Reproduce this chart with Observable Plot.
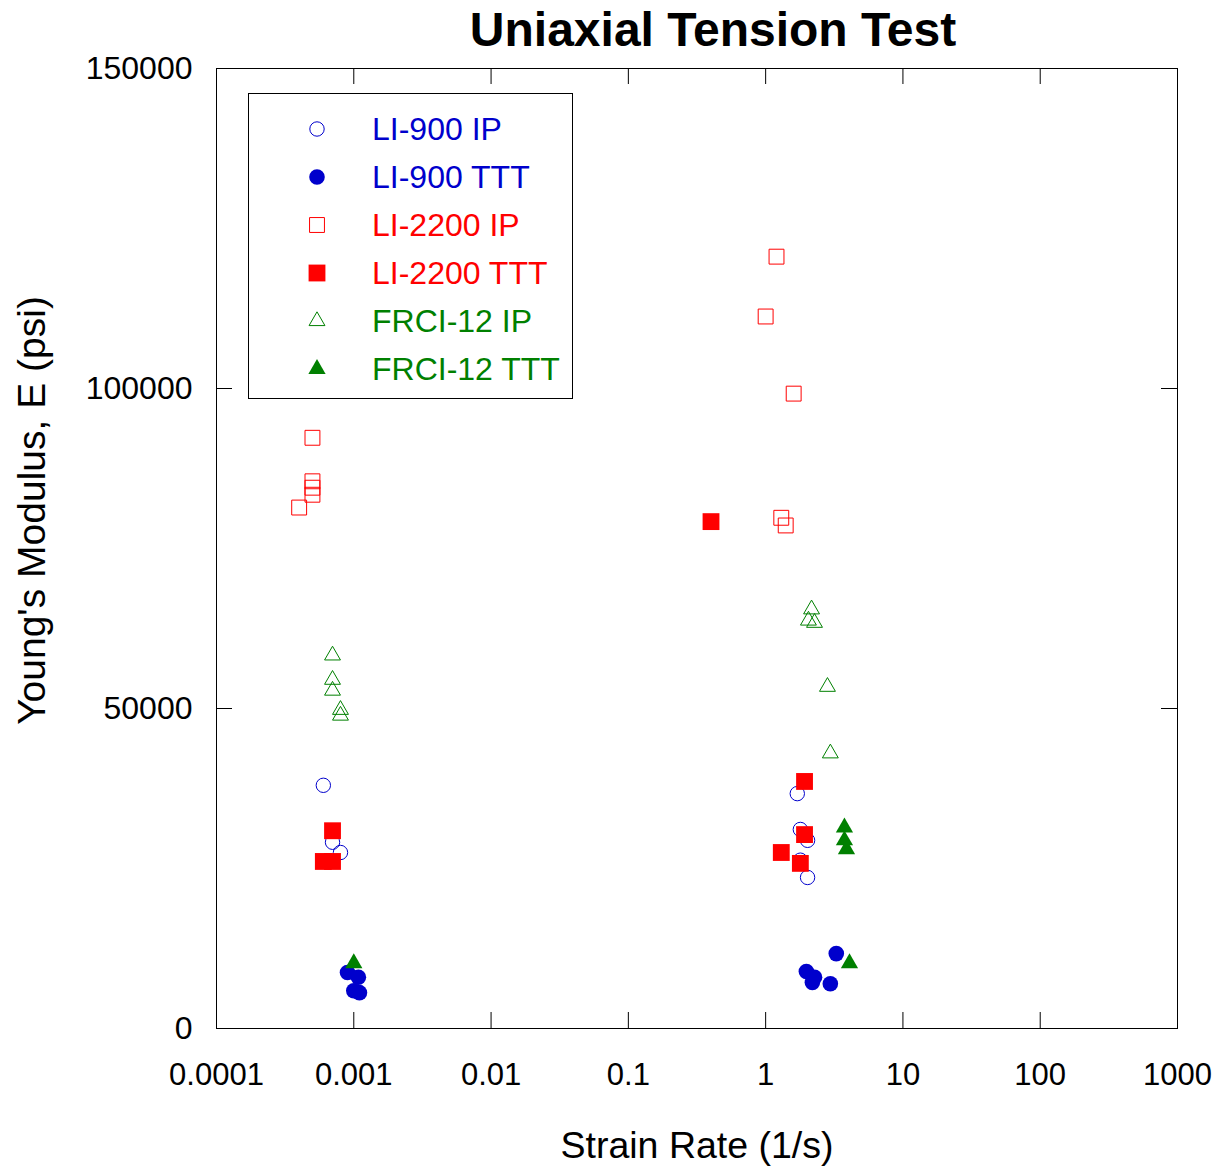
<!DOCTYPE html>
<html><head><meta charset="utf-8">
<script src="https://cdn.jsdelivr.net/npm/d3@7"></script>
<script src="https://cdn.jsdelivr.net/npm/@observablehq/plot@0.6"></script>
<style>
body{margin:0;background:#fff;font-family:Arial,"Liberation Sans",sans-serif;}
#wrap{position:relative;width:1222px;height:1170px;overflow:hidden;}
#chart{position:absolute;left:0;top:0;}
#title{position:absolute;left:0;top:0;width:1222px;padding-left:204px;box-sizing:border-box;text-align:center;font-weight:bold;font-size:48px;line-height:60px;color:#000;z-index:2;}
#legend{position:absolute;left:248px;top:93px;width:325px;height:306px;border:1px solid #000;box-sizing:border-box;background:#fff;z-index:2;}
.row{position:absolute;left:0;height:48px;width:100%;}
.row svg{position:absolute;left:56px;top:12px;}
.row span{position:absolute;left:123px;top:0;line-height:48px;font-size:32px;white-space:nowrap;}
</style></head><body>
<div id="wrap"><div id="chart"></div><div id="title">Uniaxial Tension Test</div><div id="legend"></div></div>
<script>
// ---- data (strain rate in 1/s, modulus in psi) ----
const li900IP_x   = [0.0006, 0.0007, 0.0008, 1.70, 1.79, 2.02, 1.79, 2.02];
const li900IP_y   = [38000, 29100, 27500, 36700, 31100, 29400, 26300, 23600];
const li900TTT_x  = [0.0009, 0.00108, 0.001, 0.0011, 1.98, 2.27, 2.19, 2.96, 3.27];
const li900TTT_y  = [8750, 8000, 5900, 5600, 8900, 8000, 7200, 7000, 11700];
const li2200IP_x  = [0.0005, 0.0005, 0.0005, 0.0005, 0.0004, 1.2, 1.0, 1.6, 1.3, 1.4];
const li2200IP_y  = [92300, 85500, 84500, 83400, 81400, 120600, 111250, 99200, 79800, 78600];
const li2200TTT_x = [0.0007, 0.0006, 0.0007, 0.4, 1.92, 1.92, 1.30, 1.79];
const li2200TTT_y = [30900, 26100, 26100, 79200, 38600, 30300, 27500, 25800];
const frci12IP_x  = [0.0007, 0.0007, 0.0007, 0.0008, 0.0008, 2.16, 2.05, 2.27, 2.82, 2.96];
const frci12IP_y  = [58300, 54500, 52800, 49800, 48900, 65500, 63750, 63400, 53400, 43000];
const frci12TTT_x = [0.001, 3.75, 3.75, 3.88, 4.08];
const frci12TTT_y = [10200, 31400, 29400, 28000, 10200];

const seriesNames = ["LI-900 IP", "LI-900 TTT", "LI-2200 IP", "LI-2200 TTT", "FRCI-12 IP", "FRCI-12 TTT"];
const xTicks = [0.0001, 0.001, 0.01, 0.1, 1, 10, 100, 1000];
const xTickLabels = ["0.0001", "0.001", "0.01", "0.1", "1", "10", "100", "1000"];
const yTicks = [0, 50000, 100000, 150000];
const yTickLabels = ["0", "50000", "100000", "150000"];
const xTitle = "Strain Rate (1/s)";
const yTitle = "Young's Modulus, E (psi)";

// ---- styles ----
const BLUE = "#0000cc", RED = "#ff0000", GREEN = "#008000";
const styles = {
  "LI-900 IP":   {symbol: "circle",   color: BLUE,  filled: false, r: 7.2},
  "LI-900 TTT":  {symbol: "circle",   color: BLUE,  filled: true,  r: 7.8},
  "LI-2200 IP":  {symbol: "square",   color: RED,   filled: false, r: 8.4},
  "LI-2200 TTT": {symbol: "square",   color: RED,   filled: true,  r: 9.5},
  "FRCI-12 IP":  {symbol: "triangle", color: GREEN, filled: false, r: 5.9},
  "FRCI-12 TTT": {symbol: "triangle", color: GREEN, filled: true,  r: 6.4}
};
const seriesData = {
  "LI-900 IP": [li900IP_x, li900IP_y],
  "LI-900 TTT": [li900TTT_x, li900TTT_y],
  "LI-2200 IP": [li2200IP_x, li2200IP_y],
  "LI-2200 TTT": [li2200TTT_x, li2200TTT_y],
  "FRCI-12 IP": [frci12IP_x, frci12IP_y],
  "FRCI-12 TTT": [frci12TTT_x, frci12TTT_y]
};
const rows = seriesNames.flatMap(name => {
  const [xs, ys] = seriesData[name];
  return xs.map((x, i) => ({series: name, x, y: ys[i]}));
});

// draw order: open markers first, filled on top as in reference
const drawOrder = ["LI-2200 IP", "FRCI-12 IP", "LI-900 IP", "LI-2200 TTT", "LI-900 TTT", "FRCI-12 TTT"];
const dotMarks = drawOrder.map(name => {
  const s = styles[name];
  return Plot.dot(rows.filter(d => d.series === name), {
    x: "x", y: "y", symbol: s.symbol, r: s.r,
    fill: s.filled ? s.color : "none",
    stroke: s.filled ? "none" : s.color,
    strokeWidth: 1
  });
});

const innerTicks = xTicks.slice(1, -1);
const innerYTicks = yTicks.slice(1, -1);

const chart = Plot.plot({
  width: 1222,
  height: 1170,
  marginTop: 68,
  marginBottom: 142,
  marginLeft: 216,
  marginRight: 45,
  style: {fontFamily: "Arial, 'Liberation Sans', sans-serif", color: "#000", background: "#fff"},
  x: {type: "log", domain: [0.0001, 1000]},
  y: {type: "linear", domain: [0, 150000]},
  marks: [
    Plot.frame({stroke: "#000", strokeWidth: 1}),
    Plot.tickX(innerTicks, {x: d => d, insetTop: 944, stroke: "#000"}),
    Plot.tickX(innerTicks, {x: d => d, insetBottom: 944, stroke: "#000"}),
    Plot.tickY(innerYTicks, {y: d => d, insetRight: 945, stroke: "#000"}),
    Plot.tickY(innerYTicks, {y: d => d, insetLeft: 945, stroke: "#000"}),
    Plot.axisX(xTicks, {
      anchor: "bottom", tickSize: 0, tickPadding: 34, fontSize: 31,
      tickFormat: d => xTickLabels[xTicks.indexOf(d)],
      label: null
    }),
    Plot.axisY(yTicks, {
      anchor: "left", tickSize: 0, tickPadding: 24, fontSize: 32,
      tickFormat: d => yTickLabels[yTicks.indexOf(d)],
      label: null
    }),
    Plot.text([xTitle], {
      frameAnchor: "bottom", textAnchor: "middle", lineAnchor: "middle",
      dy: 117, fontSize: 37.5, fill: "#000"
    }),
    Plot.text([yTitle], {
      frameAnchor: "left", textAnchor: "middle", lineAnchor: "middle", rotate: -90,
      dx: -184, dy: -38, fontSize: 39, fill: "#000"
    }),
    ...dotMarks
  ]
});
document.getElementById("chart").appendChild(chart);

// ---- legend ----
const legend = document.getElementById("legend");
const symMap = {circle: d3.symbolCircle, square: d3.symbolSquare, triangle: d3.symbolTriangle};
seriesNames.forEach((name, i) => {
  const s = styles[name];
  const row = document.createElement("div");
  row.className = "row";
  row.style.top = (11 + i * 48) + "px";
  const path = d3.symbol(symMap[s.symbol], s.r * s.r * Math.PI)();
  row.innerHTML = `<svg width="24" height="24" viewBox="-12 -12 24 24"><path d="${path}" fill="${s.filled ? s.color : "none"}" stroke="${s.filled ? "none" : s.color}" stroke-width="1"/></svg><span style="color:${s.color}">${name}</span>`;
  legend.appendChild(row);
});
</script>
</body></html>
